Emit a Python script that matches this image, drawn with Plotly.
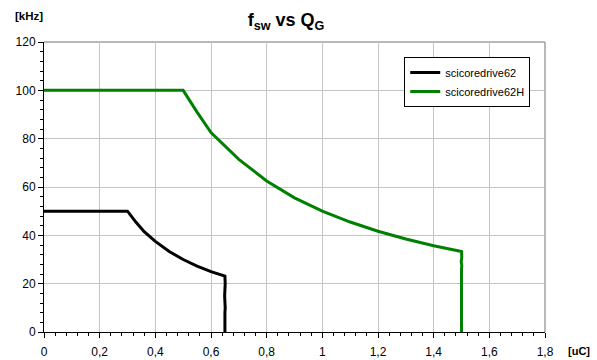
import plotly.graph_objects as go

# Data
black_q = [0, 0.30, 0.33, 0.36, 0.40, 0.45, 0.50, 0.55, 0.60, 0.65, 0.651, 0.649, 0.651, 0.650, 0.650]
black_f = [50, 50, 45.5, 41.5, 37.5, 33.3, 30, 27.3, 25, 23.1, 20, 15, 10, 8, 0]

green_q = [0, 0.50, 0.55, 0.60, 0.70, 0.80, 0.90, 1.00, 1.10, 1.20, 1.30, 1.40, 1.50, 1.501, 1.499, 1.501, 1.500, 1.500]
green_f = [100, 100, 91, 82.5, 71.4, 62.5, 55.5, 50, 45.5, 41.7, 38.5, 35.7, 33.3, 31, 29, 27.5, 26, 0]

series_names = ["scicoredrive62", "scicoredrive62H"]

x_tickvals = [0, 0.2, 0.4, 0.6, 0.8, 1.0, 1.2, 1.4, 1.6, 1.8]
x_ticktext = ["0", "0,2", "0,4", "0,6", "0,8", "1", "1,2", "1,4", "1,6", "1,8"]
y_tickvals = [0, 20, 40, 60, 80, 100, 120]
y_ticktext = ["0", "20", "40", "60", "80", "100", "120"]

FONT = "Arial, Liberation Sans, sans-serif"

fig = go.Figure()
fig.add_trace(go.Scatter(x=black_q, y=black_f, mode="lines", name=series_names[0],
                         line=dict(color="#000000", width=3)))
fig.add_trace(go.Scatter(x=green_q, y=green_f, mode="lines", name=series_names[1],
                         line=dict(color="#008000", width=3)))

fig.update_layout(
    width=597, height=360,
    margin=dict(l=44, r=52, t=42, b=28),
    paper_bgcolor="white", plot_bgcolor="white",
    font=dict(family=FONT, size=12, color="#000000"),
    title=dict(text="<b>f<sub>sw</sub> vs Q<sub>G</sub></b>", x=0.479, xanchor="center",
               y=0.945, yanchor="middle", font=dict(family=FONT, size=18, color="#000000")),
    showlegend=True,
    legend=dict(x=0.719, y=0.948, xanchor="left", yanchor="top",
                bgcolor="white", bordercolor="#000000", borderwidth=1,
                font=dict(family=FONT, size=11, color="#000000"),
                itemwidth=30, tracegroupgap=0),
    xaxis=dict(range=[0, 1.8], tickvals=x_tickvals, ticktext=x_ticktext,
               showgrid=True, gridcolor="#c4c4c4", gridwidth=1,
               showline=True, linecolor="#000000", linewidth=1,
               ticks="outside", ticklen=5, tickcolor="#000000", ticklabelstandoff=4,
               tickfont=dict(family=FONT, size=12, color="#000000"),
               minor=dict(dtick=0.04, ticks="outside", ticklen=3, tickcolor="#000000", showgrid=False),
               zeroline=False, fixedrange=True, automargin=False),
    yaxis=dict(range=[0, 120], tickvals=y_tickvals, ticktext=y_ticktext,
               showgrid=True, gridcolor="#c4c4c4", gridwidth=1,
               showline=True, linecolor="#000000", linewidth=1,
               ticks="outside", ticklen=5, tickcolor="#000000",
               tickfont=dict(family=FONT, size=12, color="#000000"),
               minor=dict(dtick=4, ticks="outside", ticklen=3, tickcolor="#000000", showgrid=False),
               zeroline=False, fixedrange=True, automargin=False),
    shapes=[
        dict(type="line", xref="paper", yref="paper", x0=0, x1=1, y0=1, y1=1,
             line=dict(color="#a0a0a0", width=1.5), layer="below"),
        dict(type="line", xref="paper", yref="paper", x0=1, x1=1, y0=0, y1=1,
             line=dict(color="#a0a0a0", width=1.5), layer="below"),
    ],
    annotations=[
        dict(text="<b>[kHz]</b>", xref="paper", yref="paper", x=-0.0625, y=1.09,
             xanchor="left", yanchor="middle", showarrow=False,
             font=dict(family=FONT, size=11.5, color="#000000")),
        dict(text="<b>[uC]</b>", xref="paper", yref="paper", x=1.042, y=-0.066,
             xanchor="left", yanchor="middle", showarrow=False,
             font=dict(family=FONT, size=11, color="#000000")),
    ],
)

fig.write_html("out.html", config={"displayModeBar": False},
               post_script="document.body.style.margin='0';")
